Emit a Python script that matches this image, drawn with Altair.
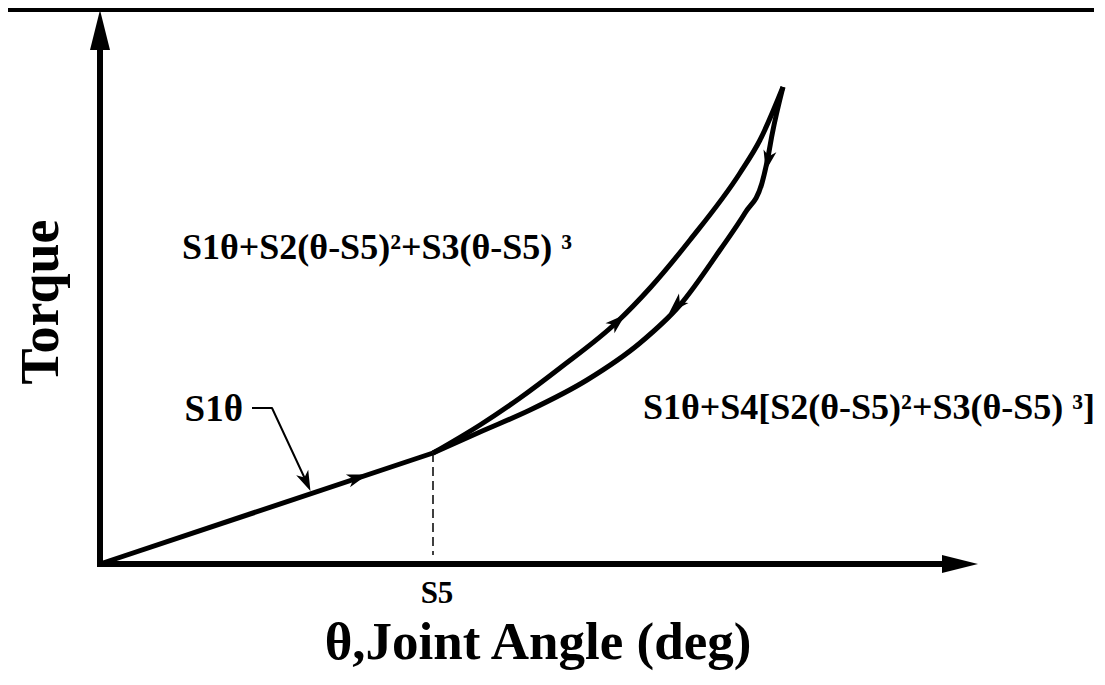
import altair as alt
import pandas as pd

# ---- chart units: theta (x) and torque (y), origin at the axis corner ----
lin_theta = [0, 333]
lin_torque = [0, 111]

load_theta = [333, 380, 420, 460, 517, 550, 590, 640, 660, 683]
load_torque = [111, 139, 166, 196, 242, 276, 324, 391, 424, 477]

unload_theta = [683, 672, 668, 662, 645, 620, 580, 540, 487, 430, 380, 333]
unload_torque = [477, 429, 407, 381, 351, 314, 259, 221, 184, 154, 132, 111]

leader_theta = [152, 172, 206]
leader_torque = [156, 156, 83]

s5_theta = 333
dash_torque = [111, 9]

# arrowheads
arrow_theta = [0, 860, 257, 206, 517, 577, 668]
arrow_torque = [534, 0, 86, 83, 242, 259, 404]
arrow_angle = [0, 90, 72, 156, 48, 225, 192]
arrow_size = [1600, 1296, 500, 480, 500, 500, 480]
arrow_kind = ["axis", "axis", "curve", "curve", "curve", "curve", "curve"]

# texts
left_texts = ["S1θ+S2(θ-S5)²+S3(θ-S5) ³"]
left_theta = [82]
left_torque = [305]
left_size = [36]

right_texts = ["S1θ+S4[S2(θ-S5)²+S3(θ-S5) ³]", "S1θ"]
right_theta = [995, 143]
right_torque = [145, 143]
right_size = [36, 37]

center_texts = ["S5", "θ,Joint Angle (deg)", "Torque"]
center_theta = [337, 438, -42]
center_torque = [-39, -95, 262]
center_size = [31, 53, 54]
center_angle = [0, 0, 270]

XD = [-92, 997]
YD = [-113, 556]
W, H = 1089, 669
FONT = "Liberation Serif"

xs = alt.Scale(domain=XD, nice=False, zero=False)
ys = alt.Scale(domain=YD, nice=False, zero=False)


def X(f):
    return alt.X(f, type="quantitative", scale=xs, axis=None)


def Y(f):
    return alt.Y(f, type="quantitative", scale=ys, axis=None)


axes_df = pd.DataFrame({"x": [0, 0], "y": [0, 0], "x2": [0, 850], "y2": [520, 0]})
axes = alt.Chart(axes_df).mark_rule(color="black", strokeWidth=6, strokeCap="square").encode(
    x=X("x"), y=Y("y"), x2="x2", y2="y2")

bar_df = pd.DataFrame({"x": [XD[0]], "x2": [XD[1] - 3], "y": [YD[1]], "y2": [YD[1] - 4]})
bar = alt.Chart(bar_df).mark_rect(color="black").encode(x=X("x"), x2="x2", y=Y("y"), y2="y2")

lin = alt.Chart(pd.DataFrame({"x": lin_theta, "y": lin_torque})).mark_line(
    color="black", strokeWidth=5).encode(x=X("x"), y=Y("y"))

load = alt.Chart(pd.DataFrame({"x": load_theta, "y": load_torque,
                               "o": list(range(len(load_theta)))})).mark_line(
    color="black", strokeWidth=5, interpolate="monotone").encode(x=X("x"), y=Y("y"), order="o:Q")

unload = alt.Chart(pd.DataFrame({"x": unload_theta, "y": unload_torque,
                                 "o": list(range(len(unload_theta)))})).mark_line(
    color="black", strokeWidth=5, interpolate="monotone").encode(x=X("x"), y=Y("y"), order="o:Q")

leader = alt.Chart(pd.DataFrame({"x": leader_theta, "y": leader_torque,
                                 "o": [0, 1, 2]})).mark_line(
    color="black", strokeWidth=2, strokeJoin="round").encode(x=X("x"), y=Y("y"), order="o:Q")

dash = alt.Chart(pd.DataFrame({"x": [s5_theta], "y": [dash_torque[0]], "y2": [dash_torque[1]]})).mark_rule(
    color="black", strokeWidth=1.5, strokeDash=[9, 5]).encode(x=X("x"), y=Y("y"), y2="y2")

adf = pd.DataFrame({"x": arrow_theta, "y": arrow_torque, "a": arrow_angle,
                    "s": arrow_size, "k": arrow_kind})
axis_arrows = alt.Chart(adf[adf.k == "axis"]).mark_point(
    shape="M0,-1 L0.5,1 L-0.5,1 Z", filled=True, color="black", opacity=1).encode(
    x=X("x"), y=Y("y"), angle=alt.Angle("a:Q", scale=None), size=alt.Size("s:Q", scale=None))
curve_arrows = alt.Chart(adf[adf.k == "curve"]).mark_point(
    shape="M0,-1 L0.6,0.85 L0,0.35 L-0.6,0.85 Z", filled=True, color="black", opacity=1).encode(
    x=X("x"), y=Y("y"), angle=alt.Angle("a:Q", scale=None), size=alt.Size("s:Q", scale=None))

ltext = alt.Chart(pd.DataFrame({"x": left_theta, "y": left_torque, "t": left_texts, "s": left_size})).mark_text(
    align="left", baseline="alphabetic", font=FONT, fontWeight="bold", color="black").encode(
    x=X("x"), y=Y("y"), text="t:N", size=alt.Size("s:Q", scale=None))

rtext = alt.Chart(pd.DataFrame({"x": right_theta, "y": right_torque, "t": right_texts, "s": right_size})).mark_text(
    align="right", baseline="alphabetic", font=FONT, fontWeight="bold", color="black").encode(
    x=X("x"), y=Y("y"), text="t:N", size=alt.Size("s:Q", scale=None))

ctext = alt.Chart(pd.DataFrame({"x": center_theta, "y": center_torque, "t": center_texts,
                                "s": center_size, "a": center_angle})).mark_text(
    align="center", baseline="alphabetic", font=FONT, fontWeight="bold", color="black").encode(
    x=X("x"), y=Y("y"), text="t:N", size=alt.Size("s:Q", scale=None),
    angle=alt.Angle("a:Q", scale=None))

chart = alt.layer(bar, axes, dash, lin, load, unload, leader, axis_arrows, curve_arrows,
                  ltext, rtext, ctext).properties(
    width=W, height=H, padding=0, autosize=alt.AutoSizeParams(type="none")
).configure_view(stroke=None)

chart.save("out.html", embed_options={"renderer": "svg", "actions": False})
